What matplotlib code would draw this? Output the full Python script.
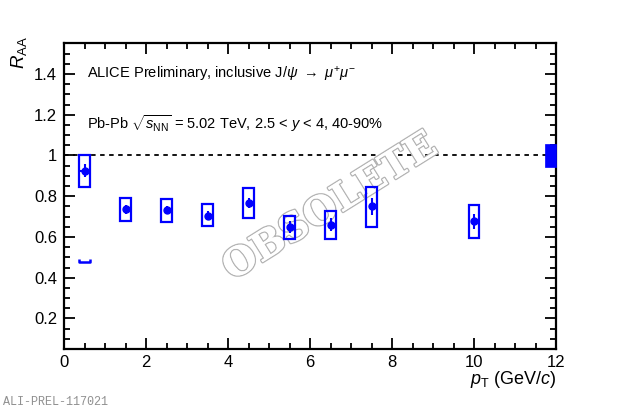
import matplotlib
matplotlib.use("Agg")
import matplotlib.pyplot as plt
from matplotlib.patches import Rectangle
from matplotlib.ticker import MultipleLocator
import matplotlib.patheffects as pe

plt.rcParams['font.family'] = ['Liberation Sans', 'DejaVu Sans']
plt.rcParams['mathtext.fontset'] = 'custom'
plt.rcParams['mathtext.rm'] = 'Liberation Sans'
plt.rcParams['mathtext.it'] = 'Liberation Sans:italic'
plt.rcParams['mathtext.bf'] = 'Liberation Sans:bold'

# Data
pt = [0.5, 1.5, 2.5, 3.5, 4.5, 5.5, 6.5, 7.5, 10.0]
raa = [0.926, 0.735, 0.731, 0.704, 0.768, 0.649, 0.660, 0.750, 0.676]
stat = [0.032, 0.020, 0.020, 0.022, 0.025, 0.029, 0.031, 0.041, 0.039]
syst_lo = [0.845, 0.680, 0.675, 0.652, 0.695, 0.591, 0.591, 0.650, 0.596]
syst_hi = [1.000, 0.792, 0.785, 0.762, 0.841, 0.703, 0.728, 0.844, 0.759]
first_xerr = 0.1
extra_box = (0.5, 0.475, 0.492)   # small bracket at low pT
global_unc = 0.056

blue = '#0000ff'
fig = plt.figure(figsize=(6.2, 4.12), dpi=100)
ax = fig.add_axes([64/620, 63/412, 492/620, 306/412])
ax.set_xlim(0, 12)
ax.set_ylim(0.05, 1.552)

# unity line
ax.plot([0, 12], [1, 1], color='black', lw=1.3, ls=(0, (2.5, 2.5)), zorder=1)

bw = 0.13
for x, lo, hi in zip(pt, syst_lo, syst_hi):
    ax.add_patch(Rectangle((x - bw, lo), 2 * bw, hi - lo, fill=False,
                           edgecolor=blue, lw=1.6, zorder=3))

# small bracket
xb, lo, hi = extra_box
ax.plot([xb - bw, xb - bw, xb + bw, xb + bw], [hi, lo, lo, hi], color=blue,
        lw=1.8, solid_capstyle='butt', zorder=3)

ax.errorbar(pt, raa, yerr=stat, fmt='o', color=blue, ms=5, lw=1.5,
            capsize=0, zorder=4)
ax.errorbar([pt[0]], [raa[0]], xerr=first_xerr, fmt='none', ecolor=blue,
            lw=1.5, capsize=0, zorder=4)

# global uncertainty box
ax.add_patch(Rectangle((11.73, 1 - global_unc), 0.27, 2 * global_unc,
                       facecolor=blue, edgecolor=blue, lw=0.5, zorder=4,
                       clip_on=False))

# ticks
ax.xaxis.set_major_locator(MultipleLocator(2))
ax.xaxis.set_minor_locator(MultipleLocator(0.5))
ax.yaxis.set_minor_locator(MultipleLocator(0.05))
ax.set_yticks([0.2, 0.4, 0.6, 0.8, 1.0, 1.2, 1.4])
ax.set_yticklabels(['0.2', '0.4', '0.6', '0.8', '1', '1.2', '1.4'])
ax.tick_params(which='both', direction='in', top=True, right=True,
               labelsize=12, width=1.3, colors='black')
ax.tick_params(which='major', length=8)
ax.tick_params(which='minor', length=4.5)
ax.tick_params(axis='x', which='major', pad=4)
ax.tick_params(axis='y', which='major', pad=5)
for s in ax.spines.values():
    s.set_linewidth(1.6)

# labels
fig.text(19/620, 1 - 52/412, r'$R_{\mathrm{AA}}$', rotation=90,
         ha='center', va='center', fontsize=13.5)
fig.text(557/620, 1 - 380/412, r'$p_{\mathrm{T}}$ (GeV/$c$)', ha='right',
         va='center', fontsize=13)

fig.text(87/620, 1 - 74/412,
         r'ALICE Preliminary, inclusive J/$\psi$ $\rightarrow$ $\mu^{+}\mu^{-}$',
         ha='left', va='center', fontsize=10.5)
fig.text(87/620, 1 - 124/412,
         r'Pb-Pb $\sqrt{s_{\mathrm{NN}}}$ = 5.02 TeV, 2.5 < $y$ < 4, 40-90%',
         ha='left', va='center', fontsize=10.5)

fig.text(3/620, 1 - 402/412, 'ALI-PREL-117021', family='Liberation Mono',
         color='#909090', fontsize=8.5, ha='left', va='center')

# watermark (hollow letters)
t = ax.text(330/620, 1 - 207/412, 'OBSOLETE', family='DejaVu Serif',
            weight='bold', fontsize=28, color='white', rotation=32,
            ha='center', va='center', zorder=2, transform=fig.transFigure)
t.set_path_effects([pe.withStroke(linewidth=2.0, foreground='#b4b4b4'),
                    pe.Normal()])

fig.savefig('out.png', dpi=100)
